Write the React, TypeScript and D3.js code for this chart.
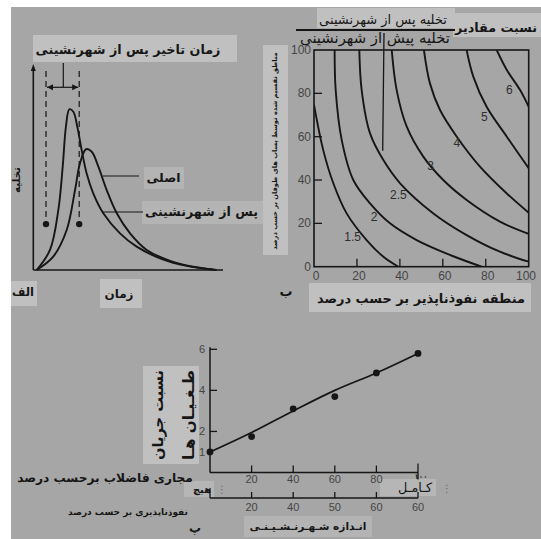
import React, { useRef, useLayoutEffect } from "react";
import * as d3 from "d3";

// panel الف : hydrographs, time (%) vs discharge (%)
const originalT = [1.8, 10.5, 17.6, 22, 24.6, 27.8, 30.8, 34.3, 38.7, 44, 51, 59.8, 72.1, 84.3, 96.7];
const originalQ = [0, 6.5, 19.5, 39, 52, 58.9, 57.7, 50.4, 39, 27.7, 17.9, 9.8, 4.5, 1.6, 0];
const urbanT = [1.8, 8.8, 13.2, 15.5, 17.2, 19, 21.1, 23.2, 25.5, 28.1, 31.6, 36.9, 45.7, 54.5, 66.8, 80.9, 94.9];
const urbanQ = [0, 9.8, 29.3, 50.4, 69.9, 78.4, 77.2, 69.9, 58.5, 47.2, 37.4, 27.7, 17.9, 11.4, 5.7, 2, 0.3];
const centroidT = [6.7, 24.2];
const centroidQ = 22.4;

// panel ب : ratio contours, impervious % (x) vs sewered % (y)
const ratioLabels = ["1.5", "2", "2.5", "3", "4", "5", "6"];
const c15x = [0, 4.3, 9, 15.2, 24.5, 32.3, 39.3];
const c15y = [74.6, 53.8, 38.5, 24.6, 12.3, 4.6, 0];
const c2x = [9.6, 10.1, 12.9, 18.3, 26.1, 35.4, 47.8, 63.4, 78.1];
const c2y = [100, 81.5, 58.5, 40, 29.2, 20, 12.3, 5.4, 0];
const c25x = [21.1, 22.2, 26.1, 32.3, 40.1, 55.6, 71.1, 86.6, 100];
const c25y = [100, 81.5, 61.5, 49.2, 38.5, 24.6, 14.6, 6.9, 2.3];
const c3x = [36.2, 38.5, 43.2, 50.9, 60.2, 71.1, 86.6, 100];
const c3y = [100, 81.5, 64.6, 50.8, 40, 30.8, 20.8, 15.1];
const c4x = [51.2, 54, 58.7, 66.5, 77.3, 89.8, 100];
const c4y = [100, 84.6, 72.3, 60, 46.2, 33.8, 24.9];
const c5x = [71.1, 74.2, 80.4, 89.8, 100];
const c5y = [100, 87.7, 73.8, 60, 45.4];
const c6x = [85.1, 89.8, 96, 100];
const c6y = [100, 90.8, 81.5, 73.8];
const labelX = [18, 28, 39.3, 54.3, 66.5, 79.3, 91];
const labelY = [13.8, 23, 33, 46.5, 57.2, 69.2, 81.5];
const gridTicks = [0, 20, 40, 60, 80, 100];

// panel پ : flood ratio vs sewered / impervious
const sewered = [0, 20, 40, 60, 80, 100];
const floodRatio = [1.0, 1.75, 3.1, 3.7, 4.85, 5.8];
const fitRatio = [1.0, 1.95, 3.0, 4.0, 4.85, 5.8];
const ratioTicks = [1, 2, 4, 6];
const seweredTicks = [20, 40, 60, 80];
const imperviousLabels = ["20", "40", "50", "60", "60"];

const bg = "#a6a6a6";
const box = "#c0c0c0";
const ink = "#161616";
const grey = "#454545";
const fa = "'DejaVu Sans', sans-serif";
const num = "'Liberation Sans', Arial, sans-serif";

// persian label: font size is scaled after layout so the text fills width w
const Fa = ({ x, y, w, size, children, bold = true, rotate = 0, fill = ink }: any) => {
  const ref = useRef<SVGTextElement>(null);
  useLayoutEffect(() => {
    const el = ref.current;
    if (!el) return;
    el.setAttribute("font-size", String(size));
    const len = el.getComputedTextLength();
    if (len > 0) {
      const k = Math.max(0.6, Math.min(1.4, w / len));
      el.setAttribute("font-size", String(size * k));
    }
  }, [w, size]);
  return (
    <text
      ref={ref}
      transform={`translate(${x},${y}) rotate(${rotate})`}
      fontFamily={fa}
      fontSize={size}
      fontWeight={bold ? "bold" : "normal"}
      textAnchor="middle"
      dominantBaseline="central"
      fill={fill}
    >
      {children}
    </text>
  );
};

const Hydrograph = () => {
  const tx = d3.scaleLinear().domain([0, 100]).range([33.3, 223]);
  const qy = d3.scaleLinear().domain([0, 100]).range([270, 65]);
  const line = d3
    .line<[number, number]>()
    .x(d => tx(d[0]))
    .y(d => qy(d[1]))
    .curve(d3.curveCatmullRom.alpha(0.5));
  const orig = originalT.map((t, i) => [t, originalQ[i]] as [number, number]);
  const urb = urbanT.map((t, i) => [t, urbanQ[i]] as [number, number]);
  const arrowY = 87.3;
  return (
    <g>
      <rect x={33} y={35} width={204} height={27} fill={box} />
      <rect x={100} y={279} width={42} height={29} fill={box} />
      <rect x={11} y={281} width={26} height={25} fill={box} />
      <rect x={144} y={167} width={40} height={22} fill="#b4b4b4" />
      <rect x={142} y={201} width={121} height={23} fill="#b4b4b4" />
      <Fa x={128} y={49} w={185} size={17}>زمان تاخیر پس از شهرنشینی</Fa>
      {/* axes */}
      <line x1={tx(0)} x2={tx(0)} y1={qy(0)} y2={qy(100) + 4} stroke={ink} strokeWidth={1.6} />
      <path d={`M${tx(0)},${qy(100) - 1} l-2.5,7 l5,0 z`} fill={ink} />
      <line x1={tx(0)} x2={tx(100)} y1={qy(0)} y2={qy(0)} stroke={ink} strokeWidth={1.6} />
      {/* lag marks */}
      {centroidT.map(t => (
        <g key={t}>
          <line x1={tx(t)} x2={tx(t)} y1={71} y2={qy(centroidQ)} stroke={ink} strokeWidth={1.2} strokeDasharray="6,4" />
          <circle cx={tx(t)} cy={qy(centroidQ)} r={3.2} fill={ink} />
        </g>
      ))}
      <line x1={tx(centroidT[0]) + 1} x2={tx(centroidT[1]) - 1} y1={arrowY} y2={arrowY} stroke={ink} strokeWidth={1.2} />
      <path d={`M${tx(centroidT[0]) + 1},${arrowY} l6,-3 l0,6 z`} fill={ink} />
      <path d={`M${tx(centroidT[1]) - 1},${arrowY} l-6,-3 l0,6 z`} fill={ink} />
      <line x1={63.3} x2={63.3} y1={63} y2={arrowY} stroke={ink} strokeWidth={1.2} />
      {/* curves */}
      <path d={line(orig) || ""} fill="none" stroke={ink} strokeWidth={1.9} />
      <path d={line(urb) || ""} fill="none" stroke={ink} strokeWidth={1.9} />
      <line x1={103} x2={139} y1={176} y2={176} stroke={ink} strokeWidth={1.2} />
      <line x1={102} x2={143} y1={212} y2={212} stroke={ink} strokeWidth={1.2} />
      <Fa x={163.5} y={177} w={34} size={15}>اصلی</Fa>
      <Fa x={201.5} y={211} w={113} size={16}>پس از شهرنشینی</Fa>
      <Fa x={16} y={180} w={26} size={11} rotate={-90}>تخلیه</Fa>
      <Fa x={119} y={294} w={29} size={15}>زمان</Fa>
      <Fa x={23} y={292} w={22} size={14}>الف</Fa>
    </g>
  );
};

const Contours = () => {
  const x = d3.scaleLinear().domain([0, 100]).range([314, 528.7]);
  const y = d3.scaleLinear().domain([0, 100]).range([266.7, 50]);
  const line = d3
    .line<[number, number]>()
    .x(d => x(d[0]))
    .y(d => y(d[1]))
    .curve(d3.curveCatmullRom.alpha(0.5));
  const curves = [
    [c15x, c15y],
    [c2x, c2y],
    [c25x, c25y],
    [c3x, c3y],
    [c4x, c4y],
    [c5x, c5y],
    [c6x, c6y],
  ].map(([xs, ys]) => xs.map((v, i) => [v, ys[i]] as [number, number]));
  return (
    <g>
      <defs>
        <clipPath id="plotB">
          <rect x={x(0)} y={y(100)} width={x(100) - x(0)} height={y(0) - y(100)} />
        </clipPath>
      </defs>
      <rect x={317} y={8} width={138} height={20} fill={box} />
      <rect x={453} y={13} width={88} height={24} fill={box} />
      <rect x={263} y={45} width={25} height={210} fill={box} />
      <rect x={309} y={283} width={222} height={29} fill={box} />
      <Fa x={496} y={27} w={82} size={17}>نسبت مقادیر</Fa>
      <Fa x={383} y={19} w={128} size={15} bold={false}>تخلیه پس از شهرنشینی</Fa>
      <line x1={296} x2={455} y1={30} y2={30} stroke={ink} strokeWidth={1.8} />
      <Fa x={375} y={37} w={150} size={15} bold={false}>تخلیه پیش از شهرنشینی</Fa>
      <Fa x={275} y={151} w={198} size={10} rotate={-90}>مناطق تقسیم شده توسط پساب های طوفان بر حسب درصد</Fa>
      <rect x={x(0)} y={y(100)} width={x(100) - x(0)} height={y(0) - y(100)} fill="none" stroke={ink} strokeWidth={1.6} />
      {gridTicks.slice(1, -1).map(t => (
        <g key={t}>
          <line x1={x(0)} x2={x(0) + 8} y1={y(t)} y2={y(t)} stroke={ink} strokeWidth={1.3} />
          <line x1={x(t)} x2={x(t)} y1={y(0)} y2={y(0) - 8} stroke={ink} strokeWidth={1.3} />
        </g>
      ))}
      {gridTicks.map(t => (
        <g key={"l" + t} fontFamily={num} fontSize={12} fill={grey}>
          <text x={x(0) - 3} y={y(t)} textAnchor="end" dominantBaseline="central">{t}</text>
          <text x={Math.min(x(t) + 2, 526)} y={y(0) + 9} textAnchor="middle" dominantBaseline="central">{t}</text>
        </g>
      ))}
      <g clipPath="url(#plotB)">
        {curves.map((c, i) => (
          <path key={i} d={line(c) || ""} fill="none" stroke={ink} strokeWidth={1.9} />
        ))}
      </g>
      <line x1={x(32.6)} x2={x(32)} y1={33} y2={y(53.5)} stroke={ink} strokeWidth={1.3} />
      {ratioLabels.map((l, i) => (
        <text key={l} x={x(labelX[i])} y={y(labelY[i])} fontFamily={num} fontSize={12} fill="#2e2e2e" textAnchor="middle" dominantBaseline="central">
          {l}
        </text>
      ))}
      <Fa x={286} y={291} w={13} size={16}>ب</Fa>
      <Fa x={421} y={298} w={208} size={17}>منطقه نفوذناپذیر بر حسب درصد</Fa>
    </g>
  );
};

const FloodRatio = () => {
  const x = d3.scaleLinear().domain([0, 100]).range([210, 418]);
  const y = d3.scaleLinear().domain([0, 6]).range([472.5, 349.3]);
  const line = d3
    .line<number>()
    .x((d, i) => x(sewered[i]))
    .y(d => y(d))
    .curve(d3.curveCatmullRom.alpha(0.5));
  const y2 = 498;
  return (
    <g>
      <rect x={143} y={366} width={56} height={98} fill={box} />
      <rect x={184} y={481} width={30} height={16} fill="#b6b6b6" />
      <rect x={380} y={479} width={56} height={17} fill="#b6b6b6" />
      <rect x={244} y={516} width={128} height={21} fill="#b4b4b4" />
      <Fa x={157} y={415} w={90} size={20} rotate={-90}>نسبت جریان</Fa>
      <Fa x={189} y={415} w={90} size={20} rotate={-90}>طـغـیـان هـا</Fa>
      <line x1={x(0)} x2={x(0)} y1={y(0)} y2={y(6) - 2} stroke={ink} strokeWidth={1.5} />
      <line x1={x(0)} x2={x(100)} y1={y(0)} y2={y(0)} stroke={ink} strokeWidth={1.5} />
      {ratioTicks.map(t => (
        <g key={t}>
          {t > 1 && <line x1={x(0)} x2={x(0) + 7} y1={y(t)} y2={y(t)} stroke={ink} strokeWidth={1.3} />}
          <text x={x(0) - 5} y={y(t)} fontFamily={num} fontSize={11} fill={grey} textAnchor="end" dominantBaseline="central">{t}</text>
        </g>
      ))}
      {seweredTicks.map(t => (
        <g key={t}>
          <line x1={x(t)} x2={x(t)} y1={y(0)} y2={y(0) - 7} stroke={ink} strokeWidth={1.3} />
          <text x={x(t)} y={479} fontFamily={num} fontSize={11} fill={grey} textAnchor="middle" dominantBaseline="central">{t}</text>
        </g>
      ))}
      <line x1={x(100)} x2={x(100)} y1={y(0) - 9} y2={y(0) + 7} stroke={ink} strokeWidth={1.3} />
      <Fa x={421} y={476} w={13} size={11}>۱۰۰</Fa>
      <path d={line(fitRatio) || ""} fill="none" stroke={ink} strokeWidth={1.7} />
      {floodRatio.map((v, i) => (
        <circle key={i} cx={x(sewered[i])} cy={y(v)} r={3.4} fill={ink} />
      ))}
      {/* second scale */}
      <line x1={x(0)} x2={x(100)} y1={y2} y2={y2} stroke={ink} strokeWidth={1.5} />
      <line x1={x(0)} x2={x(0)} y1={y2 - 10} y2={y2} stroke={ink} strokeWidth={1.3} />
      {imperviousLabels.map((l, i) => (
        <g key={i}>
          <line x1={x(sewered[i + 1])} x2={x(sewered[i + 1])} y1={y2} y2={y2 - 6} stroke={ink} strokeWidth={1.3} />
          <text x={x(sewered[i + 1])} y={507} fontFamily={num} fontSize={11} fill={grey} textAnchor="middle" dominantBaseline="central">{l}</text>
        </g>
      ))}
      <Fa x={202} y={489} w={18} size={11}>هیچ</Fa>
      <text x={222} y={489} fontFamily={fa} fontSize={10} fill="#666" textAnchor="middle" dominantBaseline="central">⋮</text>
      <Fa x={415} y={487} w={34} size={12} bold={false}>کـامـل</Fa>
      <text x={447} y={488} fontFamily={fa} fontSize={10} fill="#666" textAnchor="middle" dominantBaseline="central">⋮</text>
      <Fa x={105} y={478} w={176} size={16}>مجاری فاضلاب برحسب درصد</Fa>
      <Fa x={128} y={512} w={120} size={11}>نفوذناپذیری بر حسب درصد</Fa>
      <Fa x={308} y={526} w={117} size={12}>انـدازه شـهـرنـشـیـنـی</Fa>
      <Fa x={195} y={528} w={12} size={14}>پ</Fa>
    </g>
  );
};

export default function App() {
  return (
    <svg width={541} height={539} style={{ position: "absolute", left: 0, top: 0 }}>
      <rect width={541} height={539} fill="#fff" />
      <rect x={11} y={7} width={530} height={532} fill={bg} />
      <Hydrograph />
      <Contours />
      <FloodRatio />
    </svg>
  );
}
